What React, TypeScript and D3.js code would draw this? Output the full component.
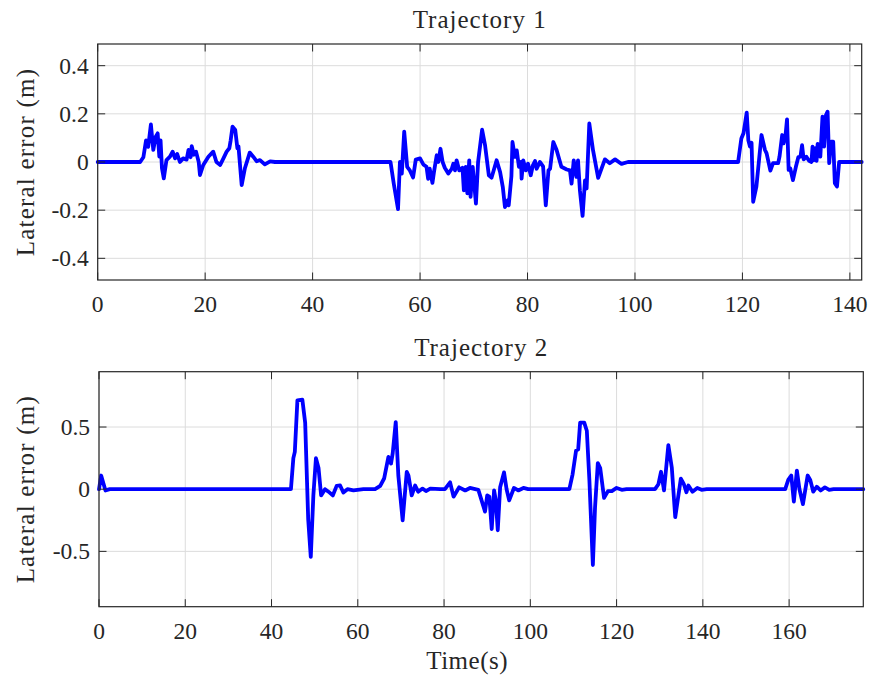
import React from "react";
import * as d3 from "d3";

const t1: number[] = [0,7.9,8.5,9.0,9.4,9.9,10.35,10.8,11.16,11.47,11.7,11.96,12.3,12.8,13.45,13.95,14.4,14.8,15.3,15.9,16.55,16.9,17.3,17.5,17.9,18.3,18.8,19.04,19.65,20.6,21.5,22.1,22.8,23.4,24.0,24.5,24.75,25.1,25.6,26.0,26.2,26.8,27.4,28.3,28.95,29.6,30.2,31.1,32.1,33,54.5,55.1,55.9,56.25,56.6,57.05,57.6,58.1,58.7,59.2,60,60.6,61.2,61.5,61.8,62.3,62.6,63.1,63.4,63.8,64.2,64.6,65.25,65.9,66.2,66.5,66.8,67.3,67.9,68.15,68.5,68.8,69.15,69.4,69.8,70.4,70.8,71.55,72.1,72.8,73.3,73.7,74.25,74.9,75.4,75.8,76.3,76.5,77.0,77.2,77.65,78.0,78.4,78.8,78.9,79.2,79.7,80.1,80.6,81.0,81.4,81.7,82.3,82.9,83.4,83.9,84.2,84.8,85.4,86.3,87.3,87.9,88.2,88.6,89.1,89.4,89.75,90.25,90.7,91.0,91.5,92.2,93.15,94.4,95.3,96.3,97.5,98.7,119.2,119.8,120.2,120.8,121.1,121.4,121.7,122.0,122.6,123.55,124.2,124.5,125.2,125.7,126.65,126.9,127.4,127.65,128.0,128.3,128.6,128.9,129.4,129.95,130.4,130.8,131.1,131.4,131.9,132.4,132.85,133.05,133.35,133.6,133.8,134.0,134.25,134.5,134.9,135.2,135.55,135.85,136.15,136.5,136.9,137.2,137.6,138.0,142.2];
const e1: number[] = [0,0,0.02,0.09,0.063,0.156,0.05,0.105,0.119,0.022,0.09,-0.026,-0.068,0.008,0.022,0.043,0.015,0.033,0,0.015,0.01,0.05,0.02,0.066,0.03,0.043,0,-0.054,-0.012,0.022,0.043,0,-0.012,0.015,0.043,0.057,0.09,0.147,0.133,0.057,0.065,-0.096,-0.026,0.039,0.022,0.003,0.008,-0.01,0.003,0,0,-0.089,-0.196,0,-0.048,0.126,-0.02,-0.035,-0.064,0.01,0.015,-0.01,-0.02,-0.07,-0.028,-0.087,-0.04,0.028,0,0.055,0,-0.024,-0.048,-0.028,-0.007,-0.035,0.007,-0.035,-0.024,-0.118,-0.02,-0.13,0.007,-0.145,-0.02,-0.173,0,0.134,0.069,-0.055,-0.065,-0.035,0.007,-0.042,-0.104,-0.187,-0.16,-0.18,-0.06,0.083,0.021,0.048,-0.02,0,-0.069,0.007,-0.035,-0.007,-0.055,-0.014,0.004,-0.028,0,-0.018,-0.18,-0.035,-0.028,0.083,0.051,-0.02,-0.031,-0.035,-0.09,0.007,-0.062,0.007,-0.118,-0.224,-0.076,-0.11,0.16,0.048,-0.066,0.011,-0.005,0.011,-0.008,0,0,0.098,0.119,0.205,0.09,0.064,0.08,-0.165,-0.102,0.112,0.05,0.036,-0.036,-0.005,-0.005,0.022,0.112,0.077,0.105,0.177,-0.033,-0.026,-0.075,-0.02,0.02,0.022,0.07,0.011,0.022,0.005,0,0.064,0.008,0.057,0.005,0.075,0.064,0.022,0.188,0.064,0.195,0.209,-0.005,0.084,0.084,-0.088,-0.102,0,0];

const t2: number[] = [0,0.5,1.5,2.5,44.5,45.06,45.4,46.0,47.15,47.8,48.5,49.1,49.7,50.3,50.9,51.5,52.4,53.2,54.2,55.1,55.9,56.65,57.6,59.0,61.3,64.0,65.2,66.1,67.1,67.7,68.1,68.8,69.4,70.4,71.35,71.75,72.5,73.3,74.0,75.0,75.8,76.8,79.1,80.2,81.4,82.2,83.5,84.9,86.0,87.95,88.7,89.5,90.0,90.5,91.05,91.6,92.0,92.45,93.0,93.9,94.5,95.1,96.2,97.2,98.4,99.5,109.05,109.8,110.6,111.1,111.55,112.5,113.1,113.7,114.5,115.0,115.65,116.2,117.1,118.0,118.9,120.0,121.2,122.3,128.9,129.7,130.3,131.0,132.0,132.8,133.6,134.9,135.6,136.2,136.65,137.6,138.7,139.7,140.9,159.1,159.8,160.5,161.1,161.8,162.4,163.2,164.3,164.9,165.6,166.4,167.3,168.3,169.3,170.3,177.2];
const e2: number[] = [0,0.11,-0.01,0,0,0.25,0.3,0.715,0.72,0.535,-0.24,-0.544,-0.05,0.25,0.17,-0.05,0,-0.02,-0.05,0.027,0.03,-0.027,0,-0.01,0,0,0.027,0.086,0.26,0.206,0.29,0.54,0.11,-0.25,0.14,0.11,-0.05,0.03,-0.02,0.005,-0.015,0.005,0,0,0.055,-0.06,0.015,-0.01,0.01,-0.005,-0.09,-0.18,-0.05,-0.06,-0.32,-0.01,-0.09,-0.33,0.015,0.135,0,-0.09,0.01,-0.01,0.01,0,0,0.12,0.31,0.32,0.535,0.535,0.47,0.07,-0.61,-0.15,0.21,0.17,-0.07,-0.015,-0.015,0.01,-0.005,0,0,0.04,0.14,-0.01,0.355,0.175,-0.225,0.085,0.04,-0.025,0.03,-0.02,0.01,-0.005,0,0,0.075,0.11,-0.1,0.15,0,-0.12,0.11,0.075,-0.02,0.02,-0.01,0.015,-0.005,0,0];

const xTicks1 = [0, 20, 40, 60, 80, 100, 120, 140];
const yTicks1 = [-0.4, -0.2, 0, 0.2, 0.4];
const yTickLabels1 = ["-0.4", "-0.2", "0", "0.2", "0.4"];
const xTicks2 = [0, 20, 40, 60, 80, 100, 120, 140, 160];
const yTicks2 = [-0.5, 0, 0.5];
const yTickLabels2 = ["-0.5", "0", "0.5"];

const FONT = "'Liberation Serif', 'Times New Roman', serif";
const TXT = "#262626";

type PanelProps = {
  t: number[]; e: number[];
  xDomain: [number, number]; yDomain: [number, number];
  left: number; right: number; top: number; bottom: number;
  xTicks: number[]; yTicks: number[]; yLabels: string[];
  title: string; xLabel?: string;
};

function Panel(p: PanelProps) {
  const x = d3.scaleLinear().domain(p.xDomain).range([p.left, p.right]);
  const y = d3.scaleLinear().domain(p.yDomain).range([p.bottom, p.top]);
  const pts: [number, number][] = p.t.map((tv, i) => [tv, p.e[i]]);
  const line = d3.line<[number, number]>().x(d => x(d[0])).y(d => y(d[1]));
  const tl = 7.5;
  const cx = (p.left + p.right) / 2;
  const cy = (p.top + p.bottom) / 2;
  return (
    <g>
      <rect x={p.left} y={p.top} width={p.right - p.left} height={p.bottom - p.top} fill="#fff" />
      {p.xTicks.map(v => (
        <line key={"gx" + v} x1={x(v)} x2={x(v)} y1={p.top} y2={p.bottom} stroke="#dcdcdc" strokeWidth={1} />
      ))}
      {p.yTicks.map(v => (
        <line key={"gy" + v} x1={p.left} x2={p.right} y1={y(v)} y2={y(v)} stroke="#dcdcdc" strokeWidth={1} />
      ))}
      <path d={line(pts) || ""} fill="none" stroke="#0000ff" strokeWidth={3.8} strokeLinejoin="round" strokeLinecap="round" />
      {p.xTicks.map(v => (
        <g key={"tx" + v}>
          <line x1={x(v)} x2={x(v)} y1={p.bottom} y2={p.bottom - tl} stroke={TXT} strokeWidth={1} />
          <line x1={x(v)} x2={x(v)} y1={p.top} y2={p.top + tl} stroke={TXT} strokeWidth={1} />
          <text x={x(v)} y={p.bottom + 32} textAnchor="middle" fontFamily={FONT} fontSize={23.5} fill={TXT}>{v}</text>
        </g>
      ))}
      {p.yTicks.map((v, i) => (
        <g key={"ty" + v}>
          <line x1={p.left} x2={p.left + tl} y1={y(v)} y2={y(v)} stroke={TXT} strokeWidth={1} />
          <line x1={p.right} x2={p.right - tl} y1={y(v)} y2={y(v)} stroke={TXT} strokeWidth={1} />
          <text x={p.left - 9} y={y(v) + 8} textAnchor="end" fontFamily={FONT} fontSize={23.5} fill={TXT}>{p.yLabels[i]}</text>
        </g>
      ))}
      <rect x={p.left} y={p.top} width={p.right - p.left} height={p.bottom - p.top} fill="none" stroke={TXT} strokeWidth={1.2} />
      <text x={cx} y={p.top - 16} textAnchor="middle" fontFamily={FONT} fontSize={25} letterSpacing={1} fill={TXT}>{p.title}</text>
      <text transform={`translate(33.5,${cy}) rotate(-90)`} textAnchor="middle" fontFamily={FONT} fontSize={25} letterSpacing={1.2} fill={TXT}>Lateral error (m)</text>
      {p.xLabel && (
        <text x={cx - 14} y={p.bottom + 62} textAnchor="middle" fontFamily={FONT} fontSize={25} letterSpacing={0.5} fill={TXT}>{p.xLabel}</text>
      )}
    </g>
  );
}

export default function App() {
  return (
    <svg width={871} height={677} style={{ position: "absolute", left: 0, top: 0, background: "#fff" }}>
      <rect width={871} height={677} fill="#fff" />
      <Panel t={t1} e={e1} xDomain={[0, 142.2]} yDomain={[-0.49, 0.49]}
        left={97.7} right={861.7} top={44} bottom={280}
        xTicks={xTicks1} yTicks={yTicks1} yLabels={yTickLabels1} title="Trajectory 1" />
      <Panel t={t2} e={e2} xDomain={[0, 177.2]} yDomain={[-0.945, 0.945]}
        left={99} right={863.3} top={371.7} bottom={606.7}
        xTicks={xTicks2} yTicks={yTicks2} yLabels={yTickLabels2} title="Trajectory 2" xLabel="Time(s)" />
    </svg>
  );
}
